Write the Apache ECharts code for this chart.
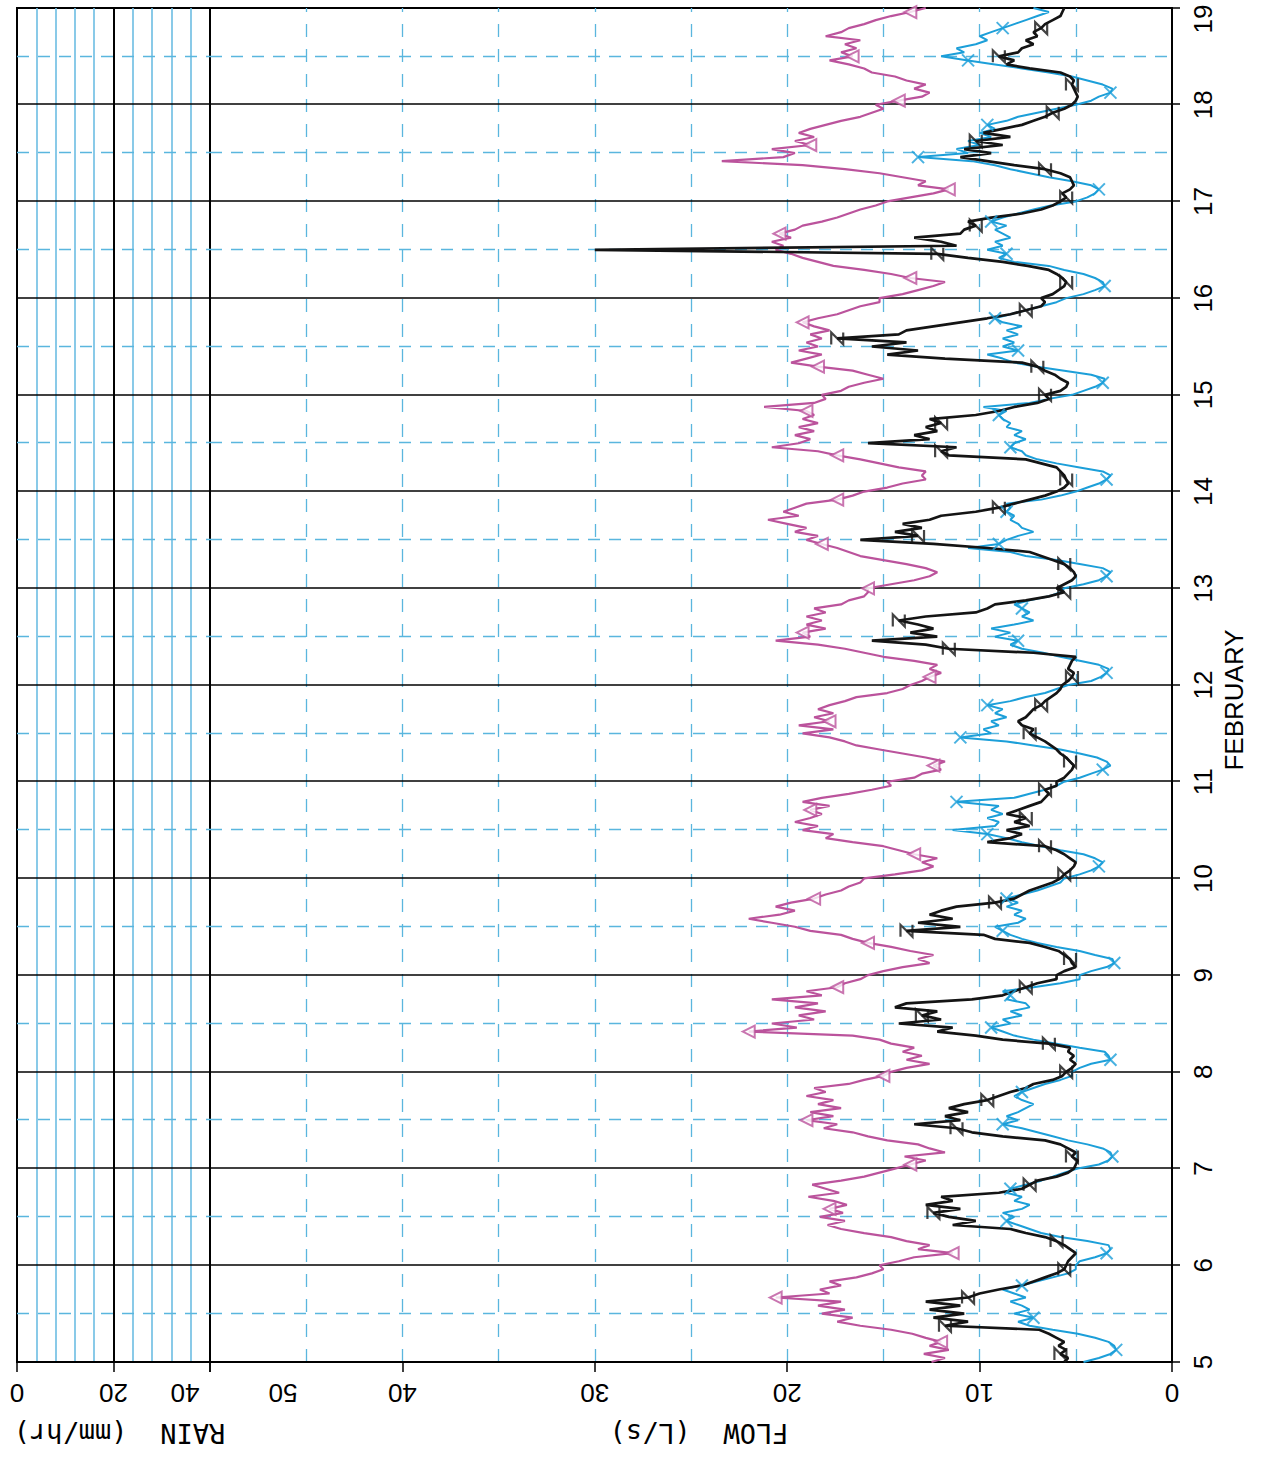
<!DOCTYPE html>
<html>
<head>
<meta charset="utf-8">
<script src="https://cdn.jsdelivr.net/npm/echarts@6/dist/echarts.min.js"></script>
<style>
html,body{margin:0;padding:0;background:#fff;overflow:hidden;width:1264px;height:1459px;}
#wrap{position:absolute;left:0;top:0;width:1459px;height:1264px;transform-origin:0 0;transform:translateY(1459px) rotate(-90deg);}
</style>
</head>
<body>
<div id="wrap"></div>
<script>
// ---- data (hourly flow readings, L/s), 5 Feb 00:00 to 19 Feb 00:00 ----
const START_DAY = 5;
const END_DAY = 19;
const HOURS_PER_POINT = 1;
const FLOW_TICKS = [0, 10, 20, 30, 40, 50];
const RAIN_TICKS = [0, 20, 40];
const X_LABEL = 'FEBRUARY';
const FLOW_LABEL = 'FLOW  (L/s)';
const RAIN_LABEL = 'RAIN  (mm/hr)';

const FLOW_MAGENTA = [
  12.5,11.8,12.9,11.6,12.6,12.0,12.8,13.5,14.6,16.2,17.4,16.6,18.2,17.0,18.4,17.2,20.6,17.8,18.3,17.2,17.8,16.4,15.6,15.0,
  15.2,14.2,13.4,11.4,13.2,12.6,13.8,14.6,16.0,17.2,17.9,17.0,18.3,17.1,17.8,16.9,17.6,18.9,17.3,18.0,18.7,17.2,16.0,15.2,
  14.4,13.6,12.8,13.9,11.8,12.6,13.2,14.8,15.8,16.6,18.1,17.4,19.0,17.6,18.8,17.2,18.4,17.6,19.0,18.0,18.6,16.8,16.0,15.0,
  14.6,13.8,12.6,13.8,13.0,14.0,13.4,14.6,15.2,16.6,22.0,19.5,20.8,18.6,19.4,18.0,19.6,18.4,20.8,18.2,19.0,17.4,17.0,16.2,
  15.8,15.0,14.0,12.6,13.2,12.4,13.6,14.6,15.8,16.6,17.2,18.8,19.6,20.8,22.0,20.4,19.6,20.6,19.8,18.6,18.0,17.2,16.8,16.2,
  16.0,14.4,13.0,12.4,13.0,12.2,13.4,14.2,15.0,16.6,18.0,17.6,19.2,18.4,19.6,18.8,18.2,18.8,17.8,19.2,18.2,16.8,15.6,14.6,
  14.8,13.4,13.0,12.0,12.4,11.8,12.8,14.0,15.2,16.4,17.0,17.8,19.2,17.6,19.4,17.8,18.6,17.6,18.4,17.8,17.0,16.4,14.8,14.0,
  13.6,13.0,12.6,12.0,12.6,12.2,13.4,15.0,16.0,17.0,18.4,20.6,18.8,19.2,18.0,19.0,18.2,19.0,18.0,18.6,17.2,16.8,16.0,15.8,
  15.8,14.6,13.4,12.6,12.2,12.8,13.8,15.0,16.2,16.8,17.4,18.2,19.0,18.4,19.6,19.0,20.0,21.0,19.4,20.2,19.6,19.0,17.4,16.6,
  16.0,14.8,14.0,12.8,13.0,12.8,14.2,15.2,16.2,17.4,18.4,20.8,19.4,18.8,19.6,18.6,19.4,18.4,19.2,18.6,19.0,21.2,18.6,18.0,
  18.2,17.2,16.8,16.0,15.0,15.8,16.6,18.4,19.8,19.0,18.2,19.4,18.4,19.0,18.2,18.8,17.8,18.6,19.2,18.4,17.4,16.8,16.2,15.2,
  15.2,14.0,13.2,12.4,11.8,13.6,14.6,16.0,17.6,18.4,19.2,19.8,20.6,20.2,20.8,19.8,20.4,19.6,19.2,18.2,17.4,16.8,16.2,15.4,
  14.8,13.6,12.4,11.6,13.2,12.8,14.0,15.2,17.0,19.2,23.4,20.2,19.6,20.8,18.8,19.6,18.6,19.4,18.8,18.0,17.2,16.2,15.6,15.0,
  15.4,14.2,13.0,12.6,13.4,12.8,13.8,14.4,15.6,16.0,16.8,17.8,16.6,17.2,16.4,17.0,16.2,18.0,17.2,16.8,16.0,15.4,14.6,13.6,
  12.8
];

const FLOW_BLACK = [
  5.6,5.4,5.8,5.5,5.9,5.6,6.0,6.4,6.9,11.8,10.6,12.4,10.8,12.6,11.0,12.8,10.6,10.0,9.0,7.8,7.2,6.6,6.0,5.6,
  5.5,5.4,5.2,5.0,5.3,5.6,6.0,6.6,7.6,8.4,11.4,10.2,11.6,12.4,11.0,12.8,11.4,12.0,9.0,7.8,7.4,7.0,6.0,5.4,
  5.1,5.0,4.9,5.2,5.0,5.4,5.8,6.6,8.8,10.4,11.2,13.4,11.0,11.8,10.6,11.6,10.8,9.6,9.0,8.4,7.6,7.2,6.2,5.7,
  5.5,5.2,5.0,5.3,5.1,5.4,5.3,6.4,8.8,10.2,12.2,11.4,14.2,12.0,13.0,12.2,14.4,13.8,10.4,8.8,8.2,7.6,7.0,6.0,
  6.0,5.6,5.0,5.2,5.3,5.6,5.9,6.6,7.4,9.2,9.8,13.8,11.0,13.2,11.4,12.6,12.0,11.2,9.2,8.2,7.8,7.4,6.8,6.2,
  5.8,5.6,5.3,5.1,5.0,5.3,5.6,6.0,6.6,9.6,8.4,7.8,8.6,7.4,8.2,7.6,8.6,8.0,7.4,6.8,6.6,6.4,6.6,6.0,
  6.0,5.6,5.4,5.2,5.1,5.3,5.5,5.8,6.0,6.3,6.6,7.0,7.4,7.2,7.8,8.0,7.6,7.4,7.2,6.8,6.6,6.3,6.0,5.8,
  5.7,5.4,5.2,5.1,5.4,5.3,5.2,5.0,7.2,11.6,12.8,15.6,12.2,13.6,12.4,13.2,14.2,12.8,10.2,9.6,9.2,7.6,6.4,5.6,
  6.0,5.6,5.2,5.0,5.1,5.3,5.6,6.2,6.8,7.4,9.6,12.4,16.2,13.2,14.4,13.0,14.0,12.6,12.0,10.2,9.0,8.2,7.4,6.6,
  6.0,5.6,5.4,5.5,5.6,5.8,6.0,6.8,7.6,11.6,12.0,11.2,15.8,12.6,13.4,12.2,12.8,12.0,12.6,10.2,9.0,8.2,7.0,6.4,
  6.6,5.8,5.5,5.4,5.8,6.1,6.6,7.0,7.8,11.8,14.8,13.2,15.6,13.8,17.4,14.2,13.8,12.4,11.0,9.6,8.4,7.6,6.8,6.6,
  6.8,6.2,5.9,5.6,5.5,5.7,6.0,6.4,7.5,8.8,10.6,12.2,30.0,11.2,12.0,13.4,11.0,10.8,10.2,10.6,9.4,7.8,6.8,6.2,
  5.8,5.5,5.7,5.3,5.1,5.2,5.3,5.8,6.6,8.2,9.6,11.0,9.4,10.8,8.8,10.2,8.4,9.8,8.8,7.8,7.2,6.6,6.2,5.6,
  5.2,5.0,4.9,5.0,5.1,5.2,5.1,5.3,5.8,7.4,8.6,8.2,9.0,8.0,7.8,7.2,7.6,7.0,7.2,6.8,6.6,6.2,5.8,5.7,
  5.6
];

const FLOW_BLUE = [
  4.6,3.8,3.2,2.9,3.0,3.3,4.0,4.9,6.2,7.4,8.0,7.2,8.2,7.4,7.8,8.4,7.6,8.2,8.8,7.8,7.0,6.2,5.4,5.0,
  5.0,4.8,4.0,3.4,3.2,3.3,4.4,5.8,6.8,7.4,8.0,8.6,8.2,8.8,7.8,7.4,8.2,7.8,8.6,8.4,7.6,6.8,6.2,5.6,
  4.9,3.8,3.3,3.1,3.2,3.6,4.4,5.4,6.2,7.0,7.8,8.8,8.0,8.6,8.0,7.6,7.2,7.8,8.2,7.8,7.2,6.6,5.8,5.2,
  5.2,4.8,4.2,3.2,3.3,3.5,4.8,6.0,7.2,8.2,8.8,9.4,8.4,8.8,7.8,8.4,7.4,7.6,8.6,8.4,8.8,7.2,5.8,4.8,
  4.8,4.2,3.4,3.0,3.1,4.0,4.8,6.0,7.0,7.8,8.4,8.8,9.2,8.0,7.6,8.2,7.8,8.6,8.0,8.6,7.8,7.0,6.4,5.8,
  5.6,4.8,4.2,3.8,3.6,4.0,4.6,5.8,6.8,7.8,8.6,9.6,11.4,9.2,9.0,9.6,8.8,9.4,9.0,11.2,8.2,7.4,6.6,6.0,
  5.6,4.8,4.2,3.6,3.2,3.4,3.9,4.8,5.8,7.2,8.6,11.0,9.4,9.8,9.0,9.4,8.6,9.2,8.8,9.6,8.4,7.6,6.6,6.0,
  5.4,4.2,3.7,3.4,3.3,3.8,4.8,5.8,6.7,7.8,8.4,8.0,9.2,8.4,9.4,8.2,7.2,7.8,7.4,7.8,8.2,7.4,6.4,5.8,
  5.6,4.6,3.8,3.4,3.2,3.6,4.8,6.0,7.6,8.4,10.6,9.0,8.6,8.0,7.2,7.8,8.0,8.4,8.2,8.6,8.4,8.6,6.8,5.8,
  5.0,4.4,3.8,3.4,3.2,3.6,4.8,6.0,7.0,7.6,7.8,8.4,8.2,7.6,8.2,7.8,8.6,8.4,8.8,9.0,8.6,9.8,7.4,6.4,
  5.2,4.6,4.0,3.6,3.5,4.2,5.6,7.0,8.2,8.8,9.6,8.0,8.8,8.2,8.8,8.0,8.6,7.8,8.8,9.2,8.4,7.6,6.8,6.0,
  5.5,4.6,4.0,3.5,3.6,4.0,4.6,5.6,6.4,8.2,9.0,8.6,9.6,8.8,9.2,8.4,8.8,9.2,8.6,9.4,8.8,8.0,7.2,6.3,
  5.0,4.4,4.0,3.8,4.2,5.2,6.4,7.4,8.4,9.2,10.4,13.2,10.6,11.2,10.0,10.6,9.4,10.0,9.2,9.6,8.6,8.0,7.0,6.0,
  5.0,4.2,3.8,3.2,3.1,3.6,4.4,5.2,6.4,7.8,9.2,10.6,12.0,10.8,11.2,10.2,9.6,10.0,9.4,8.8,8.2,7.6,7.0,6.4,
  7.2
];

// ---- styling ----
const FONT = '"Liberation Sans", Arial, Helvetica, sans-serif';
const NAME_FONT = '"DejaVu Sans Mono", "Liberation Mono", monospace';
const C_MAG = '#bb539c';
const C_BLK = '#141414';
const C_BLU = '#1c9fd9';
const C_GRID_DASH = '#5ab6de';
const C_RAIN_LINE = '#6cbde3';

function toPoints(values) {
  return values.map((v, i) => [START_DAY + i * HOURS_PER_POINT / 24, v]);
}
function markerPoints(values, every, offset) {
  return toPoints(values).filter((p, i) => i % every === offset);
}

const chart = echarts.init(document.getElementById('wrap'), null, {renderer: 'svg', width: 1459, height: 1264});

const dayAxisCommon = {
  type: 'value', min: START_DAY, max: END_DAY, interval: 1,
  splitLine: {show: true, showMinLine: false, showMaxLine: false, lineStyle: {color: '#000', width: 1.6}},
  minorTick: {show: false, splitNumber: 2},
  minorSplitLine: {show: true, lineStyle: {color: C_GRID_DASH, width: 1.3, type: [12, 9]}}
};

const option = {
  animation: false,
  backgroundColor: '#fff',
  grid: [
    {left: 97, right: 8, top: 17, height: 193, show: true, borderColor: '#000', borderWidth: 2,
      backgroundColor: 'transparent', containLabel: false, outerBoundsMode: 'none'},
    {left: 97, right: 8, top: 210, height: 962, show: true, borderColor: '#000', borderWidth: 2,
      backgroundColor: 'transparent', containLabel: false, outerBoundsMode: 'none'}
  ],
  xAxis: [
    Object.assign({}, dayAxisCommon, {
      gridIndex: 0,
      axisLine: {show: false}, axisTick: {show: false}, axisLabel: {show: false}
    }),
    Object.assign({}, dayAxisCommon, {
      gridIndex: 1,
      axisLine: {show: true, onZero: false, lineStyle: {color: '#000', width: 2}},
      axisTick: {show: true, length: 8, lineStyle: {color: '#000', width: 1.5}},
      axisLabel: {
        show: true, fontSize: 26, color: '#000', fontFamily: FONT, margin: 18, showMinLabel: true, showMaxLabel: true,
        formatter: v => v === END_DAY ? '{e|' + v + '}' : String(v),
        rich: {e: {fontSize: 26, color: '#000', fontFamily: FONT, padding: [0, 22, 0, 0]}}
      },
      name: X_LABEL, nameLocation: 'middle', nameGap: 44,
      nameTextStyle: {fontSize: 26, color: '#000', fontFamily: FONT, padding: [0, 30, 0, 0]}
    })
  ],
  yAxis: [
    {
      type: 'value', gridIndex: 0, min: RAIN_TICKS[0], max: RAIN_TICKS[RAIN_TICKS.length - 1], interval: 20, inverse: true,
      axisLine: {show: true, onZero: false, lineStyle: {color: '#000', width: 2}},
      axisTick: {show: true, length: 10, lineStyle: {color: '#000', width: 1.5}},
      axisLabel: {
        show: true, rotate: 90, fontSize: 26, color: '#000', fontFamily: FONT, margin: 18,
        showMinLabel: true, showMaxLabel: true,
        formatter: v => v === 40 ? '{s|' + v + '}' : String(v),
        rich: {s: {fontSize: 26, color: '#000', fontFamily: FONT, padding: [0, 0, 0, 50]}}
      },
      splitLine: {show: true, showMinLine: false, showMaxLine: false, lineStyle: {color: '#000', width: 2}},
      minorTick: {show: false, splitNumber: 5},
      minorSplitLine: {show: true, lineStyle: {color: C_RAIN_LINE, width: 1.6}},
      name: RAIN_LABEL, nameLocation: 'middle', nameRotate: 90, nameGap: 58,
      nameTextStyle: {fontSize: 27, color: '#000', fontFamily: NAME_FONT, padding: [0, 12, 0, 0]}
    },
    {
      type: 'value', gridIndex: 1, min: FLOW_TICKS[0], max: FLOW_TICKS[FLOW_TICKS.length - 1], interval: 10,
      axisLine: {show: true, onZero: false, lineStyle: {color: '#000', width: 2}},
      axisTick: {show: true, length: 10, lineStyle: {color: '#000', width: 1.5}},
      axisLabel: {
        show: true, rotate: 90, fontSize: 26, color: '#000', fontFamily: FONT, margin: 18,
        showMinLabel: true, showMaxLabel: true,
        formatter: v => v === 50 ? '{s|' + v + '}' : String(v),
        rich: {s: {fontSize: 26, color: '#000', fontFamily: FONT, padding: [0, 146, 0, 0]}}
      },
      splitLine: {show: true, showMinLine: false, showMaxLine: false, lineStyle: {color: C_GRID_DASH, width: 1.3, type: [13, 12]}},
      minorTick: {show: false, splitNumber: 2},
      minorSplitLine: {show: true, lineStyle: {color: C_GRID_DASH, width: 1.3, type: [13, 12]}},
      name: FLOW_LABEL, nameLocation: 'middle', nameRotate: 90, nameGap: 58,
      nameTextStyle: {fontSize: 27, color: '#000', fontFamily: NAME_FONT, padding: [0, 16, 0, 0]}
    }
  ],
  series: [
    {name: 'Flow (magenta)', type: 'line', xAxisIndex: 1, yAxisIndex: 1, data: toPoints(FLOW_MAGENTA),
      showSymbol: false, lineStyle: {color: C_MAG, width: 2.2}, itemStyle: {color: C_MAG}, z: 3},
    {name: 'Flow (blue)', type: 'line', xAxisIndex: 1, yAxisIndex: 1, data: toPoints(FLOW_BLUE),
      showSymbol: false, lineStyle: {color: C_BLU, width: 2}, itemStyle: {color: C_BLU}, z: 4},
    {name: 'Flow (black)', type: 'line', xAxisIndex: 1, yAxisIndex: 1, data: toPoints(FLOW_BLACK),
      showSymbol: false, lineStyle: {color: C_BLK, width: 2.7}, itemStyle: {color: C_BLK}, z: 5},
    {name: 'magenta markers', type: 'scatter', xAxisIndex: 1, yAxisIndex: 1, data: markerPoints(FLOW_MAGENTA, 11, 5),
      symbol: 'emptyTriangle', symbolSize: 12, itemStyle: {color: C_MAG, borderColor: C_MAG, borderWidth: 1.8}, z: 6},
    {name: 'blue markers', type: 'scatter', xAxisIndex: 1, yAxisIndex: 1, data: markerPoints(FLOW_BLUE, 8, 3),
      symbol: 'path://M0,0L10,10M10,0L0,10', symbolSize: 12,
      itemStyle: {color: 'rgba(0,0,0,0)', borderColor: C_BLU, borderWidth: 2}, z: 6},
    {name: 'black markers', type: 'scatter', xAxisIndex: 1, yAxisIndex: 1, data: markerPoints(FLOW_BLACK, 7, 2),
      symbol: 'path://M0,0L10,0L0,10L10,10', symbolSize: 12,
      itemStyle: {color: 'rgba(0,0,0,0)', borderColor: C_BLK, borderWidth: 2.2}, z: 7}
  ]
};
chart.setOption(option);
</script>
</body>
</html>
